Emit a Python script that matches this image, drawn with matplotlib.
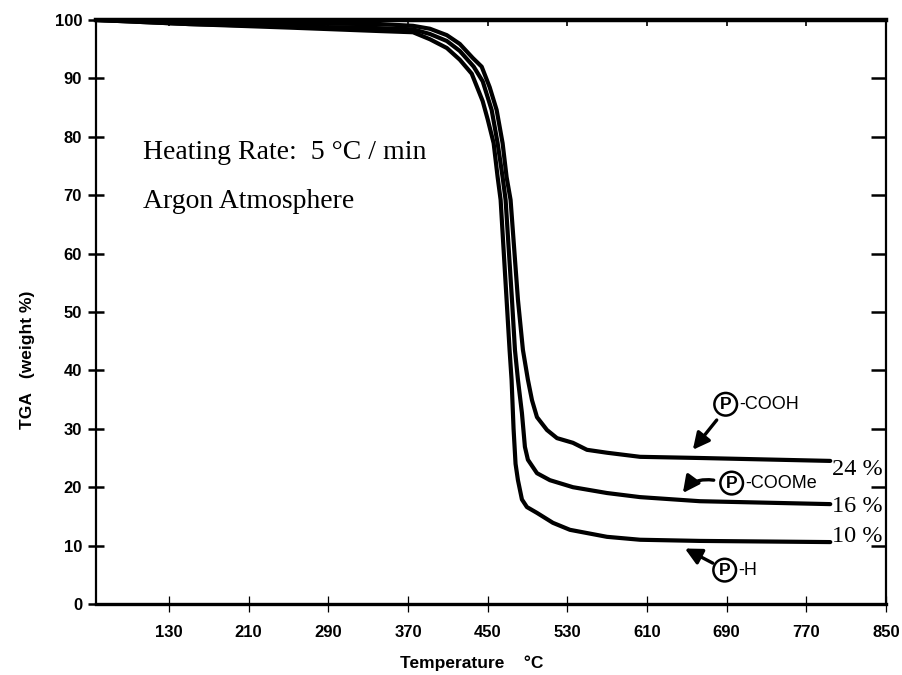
"""TGA weight-loss curves for the three resins (argon, 5 C/min)."""

import matplotlib
matplotlib.use("Agg")
import matplotlib.pyplot as plt

SANS = ["Liberation Sans", "DejaVu Sans"]
SERIF = ["Liberation Serif", "DejaVu Serif"]

# temperature (C), weight (%)
TEMP_COOH = [57, 150, 250, 342, 375, 392, 409, 422, 435, 444, 452, 459, 465,
             469, 473, 480.4, 485.4, 490.4, 494.5, 499.5, 509.5, 519.6, 535.6,
             549.7, 569.8, 603, 663, 794]
WT_COOH = [100, 99.6, 99.4, 99.3, 99.0, 98.5, 97.4, 95.9, 93.5, 92.0, 88.5,
           84.6, 78.9, 73.1, 69.2, 52.1, 43.5, 38.4, 34.9, 32.0, 29.8, 28.4,
           27.6, 26.4, 25.9, 25.2, 25.0, 24.5]

TEMP_COOME = [57, 150, 250, 342, 375, 392, 409, 422, 436, 445, 454, 460, 465,
              468, 474.4, 477.4, 480.4, 484.4, 487.4, 490.4, 499.5, 512.5,
              535.6, 569.8, 603, 663, 794]
WT_COOME = [100, 99.3, 98.9, 98.6, 98.4, 97.6, 96.4, 94.7, 92.0, 89.5, 84.6,
            78.9, 73.1, 69.2, 52.1, 43.5, 38.4, 32.7, 26.9, 24.7, 22.4, 21.2,
            20.0, 19.0, 18.3, 17.6, 17.1]

TEMP_H = [57, 150, 250, 342, 375, 392, 409, 422, 434, 445, 450, 456, 460,
          463, 469, 472, 474, 476, 478, 480.4, 484.4, 489.4, 499.5, 515.5,
          532.6, 569.8, 603, 663, 794]
WT_H = [100, 99.3, 98.7, 98.1, 97.9, 96.7, 95.2, 93.2, 90.8, 86.1, 83.0,
        78.9, 73.1, 69.2, 52.1, 43.5, 38.4, 30.0, 24.0, 21.2, 17.9, 16.6,
        15.6, 13.9, 12.7, 11.5, 11.0, 10.8, 10.6]

RESIDUE_LABELS = ["24 %", "16 %", "10 %"]
X_TICKS = [130, 210, 290, 370, 450, 530, 610, 690, 770, 850]
Y_TICKS = list(range(0, 101, 10))


def circled_label(ax, x, y, group):
    ax.text(x, y, "P", family=SANS, fontsize=12.5, fontweight="bold",
            ha="center", va="center",
            bbox=dict(boxstyle="circle,pad=0.22", fc="white", ec="black",
                      lw=1.8))
    ax.text(x + 14, y, "-" + group, family=SANS, fontsize=13,
            ha="left", va="center")


def main():
    fig = plt.figure(figsize=(9.03, 6.75), dpi=100)
    ax = fig.add_axes([0.1063, 0.1052, 0.8749, 0.8652])

    for temp, wt in [(TEMP_COOH, WT_COOH), (TEMP_COOME, WT_COOME),
                     (TEMP_H, WT_H)]:
        ax.plot(temp, wt, color="black", lw=3.0, solid_capstyle="round",
                solid_joinstyle="round")

    ax.set_xlim(56.7, 850)
    ax.set_ylim(0, 100)
    ax.set_xticks(X_TICKS)
    ax.set_yticks(Y_TICKS)
    for lab in ax.get_xticklabels() + ax.get_yticklabels():
        lab.set_family(SANS)
        lab.set_fontweight("bold")
        lab.set_fontsize(12)
    ax.tick_params(axis="y", direction="inout", length=12, width=1.8, pad=4)
    ax.tick_params(axis="x", direction="inout", length=12, width=0.9, pad=9)

    ax.spines["top"].set_linewidth(3.2)
    ax.spines["bottom"].set_linewidth(2.4)
    ax.spines["left"].set_linewidth(1.6)
    ax.spines["right"].set_linewidth(1.6)

    # inward ticks on the top and right frame
    top = ax.secondary_xaxis("top")
    top.set_xticks(X_TICKS[:-1])
    top.tick_params(direction="in", length=4, width=1.2, labeltop=False)
    top.spines["top"].set_visible(False)
    right = ax.secondary_yaxis("right")
    right.set_yticks(Y_TICKS[1:-1])
    right.tick_params(direction="in", length=11, width=1.8, labelright=False)
    right.spines["right"].set_visible(False)

    fig.text(0.522, 0.018, "Temperature    \u00b0C", family=SANS,
             fontweight="bold", fontsize=12.5, ha="center", va="center")
    fig.text(0.031, 0.467, "TGA   (weight %)", family=SANS, fontweight="bold",
             fontsize=12.5, rotation=90, ha="center", va="center")

    ax.text(104, 76.2, "Heating Rate:  5 \u00b0C / min", family=SERIF,
            fontsize=20, va="baseline")
    ax.text(104, 67.8, "Argon Atmosphere", family=SERIF, fontsize=20,
            va="baseline")

    ends = [WT_COOH[-1], WT_COOME[-1], WT_H[-1]]
    offsets = [-2.4, -1.3, 0.0]
    for label, yend, dy in zip(RESIDUE_LABELS, ends, offsets):
        ax.text(796, yend + dy, label, family=SERIF, fontsize=17.5,
                va="baseline", ha="left")

    circled_label(ax, 689, 34.2, "COOH")
    circled_label(ax, 695, 20.7, "COOMe")
    circled_label(ax, 688, 5.8, "H")

    arrow = dict(arrowstyle="-|>,head_length=1.0,head_width=0.5",
                 color="black", lw=2.4, shrinkA=0, shrinkB=0)
    ax.annotate("", xy=(656, 26.4), xytext=(680, 31.5), arrowprops=arrow)
    ax.annotate("", xy=(646, 19.0), xytext=(677, 21.2),
                arrowprops=dict(arrow, connectionstyle="arc3,rad=0.3"))
    ax.annotate("", xy=(648, 9.5), xytext=(676, 7.0), arrowprops=arrow)

    fig.savefig("out.png", dpi=100)
    plt.close(fig)


if __name__ == "__main__":
    main()
